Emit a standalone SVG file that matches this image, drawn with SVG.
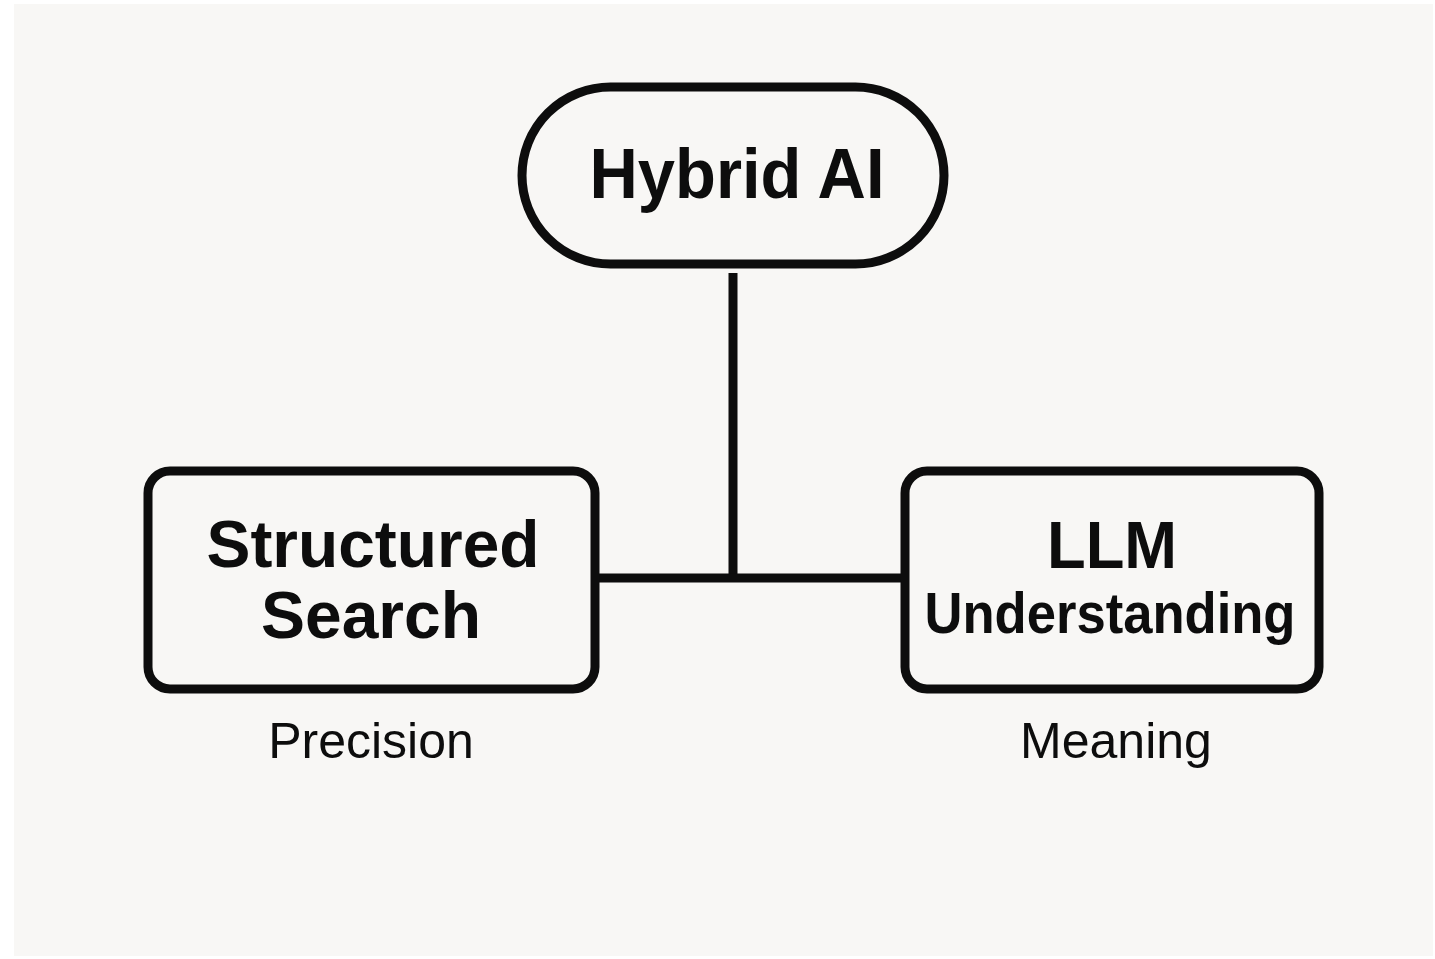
<svg xmlns="http://www.w3.org/2000/svg" width="1435" height="959" viewBox="0 0 1435 959">
<style>
.node{fill:none;stroke:#0d0d0d;stroke-width:9}
.conn{stroke:#0d0d0d;stroke-width:9;fill:none}
.title{font-family:"Liberation Sans",Arial,sans-serif;font-weight:bold;fill:#0d0d0d;text-anchor:middle}
.label{font-family:"Liberation Sans",Arial,sans-serif;font-size:50px;fill:#0d0d0d;text-anchor:middle}
</style>
<rect x="0" y="0" width="1435" height="959" fill="#ffffff"/>
<rect x="14" y="4" width="1419" height="952" fill="#f8f7f5"/>
<g id="connectors">
<line class="conn" x1="733" y1="273" x2="733" y2="578"/>
<line class="conn" x1="596" y1="578" x2="905" y2="578"/>
</g>
<g id="hybrid-ai">
<rect class="node" x="522" y="87" width="422" height="177" rx="88.5"/>
<text class="title" x="737" y="198" font-size="71" textLength="295" lengthAdjust="spacingAndGlyphs">Hybrid AI</text>
</g>
<g id="structured-search">
<rect class="node" x="148" y="471" width="447" height="218" rx="22"/>
<text class="title" x="373" y="567" font-size="66" textLength="333" lengthAdjust="spacingAndGlyphs">Structured</text>
<text class="title" x="371" y="638" font-size="66">Search</text>
<text class="label" x="371" y="758">Precision</text>
</g>
<g id="llm-understanding">
<rect class="node" x="905" y="471" width="414" height="218" rx="22"/>
<text class="title" x="1112" y="568" font-size="66" textLength="130" lengthAdjust="spacingAndGlyphs">LLM</text>
<text class="title" x="1110" y="633" font-size="57" textLength="371" lengthAdjust="spacingAndGlyphs">Understanding</text>
<text class="label" x="1116" y="758">Meaning</text>
</g>
</svg>
